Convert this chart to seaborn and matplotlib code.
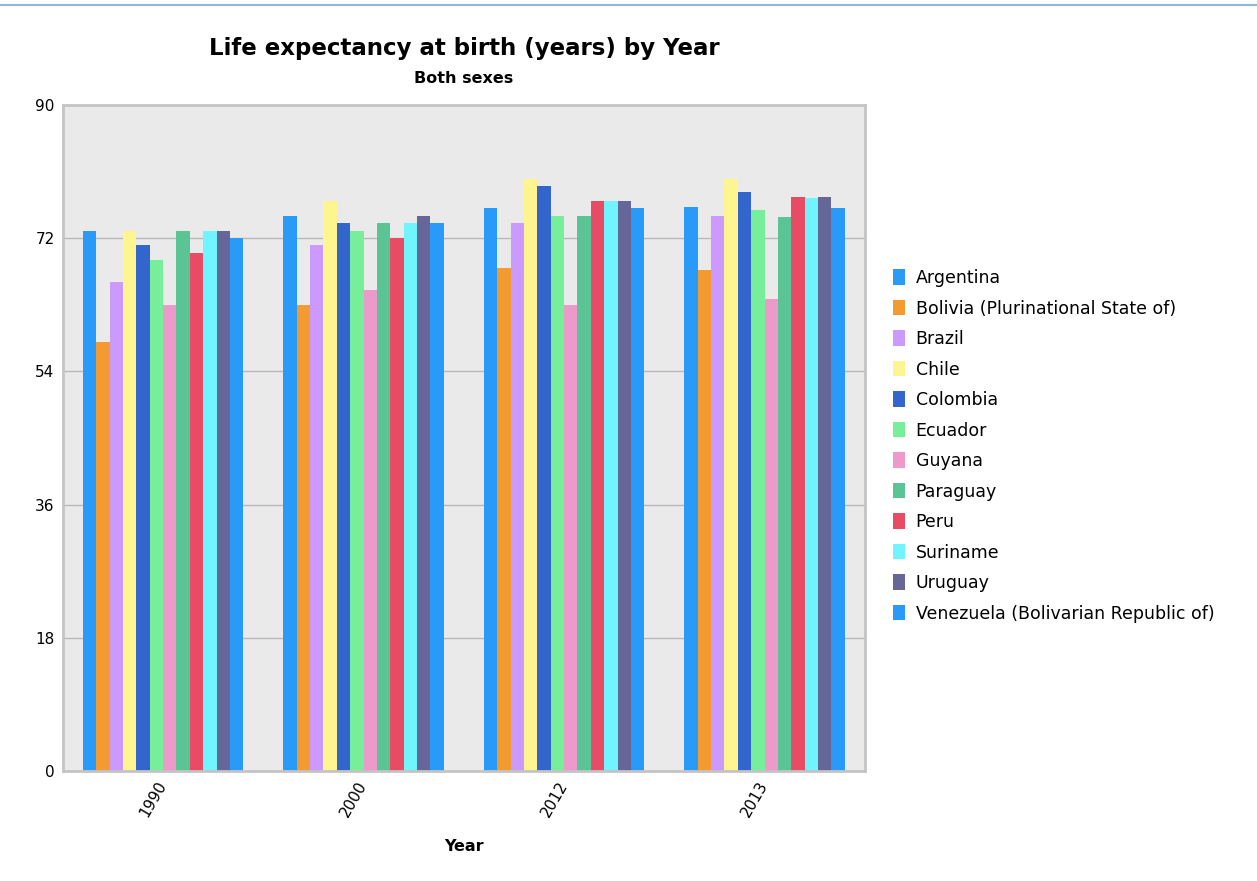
import numpy as np
import pandas as pd
import matplotlib.pyplot as plt
import seaborn as sns
from matplotlib.lines import Line2D

# data
years = ["1990", "2000", "2012", "2013"]
countries = ["Argentina", "Bolivia (Plurinational State of)", "Brazil", "Chile",
             "Colombia", "Ecuador", "Guyana", "Paraguay", "Peru", "Suriname",
             "Uruguay", "Venezuela (Bolivarian Republic of)"]
argentina = [73, 75, 76, 76.2]
bolivia = [58, 63, 68, 67.7]
brazil = [66, 71, 74, 75]
chile = [73, 77, 80, 80]
colombia = [71, 74, 79, 78.2]
ecuador = [69, 73, 75, 75.8]
guyana = [63, 65, 63, 63.7]
paraguay = [73, 74, 75, 74.9]
peru = [70, 72, 77, 77.6]
suriname = [73, 74, 77, 77.4]
uruguay = [73, 75, 77, 77.6]
venezuela = [72, 74, 76, 76]

colors = ["#2A9AF8", "#F39A30", "#CC99FF", "#FFF590", "#3366CC", "#77EE99",
          "#EE99CC", "#5BC495", "#E84C64", "#70F5FF", "#666699", "#2A9AF8"]

series = [argentina, bolivia, brazil, chile, colombia, ecuador, guyana,
          paraguay, peru, suriname, uruguay, venezuela]

rows = []
for c, vals in zip(countries, series):
    for y, v in zip(years, vals):
        rows.append({"Year": y, "Country": c, "Value": v})
df = pd.DataFrame(rows)

sns.set_style("white")
plt.rcParams["font.family"] = ["DejaVu Sans"]
plt.rcParams["text.color"] = "black"
plt.rcParams["xtick.color"] = "black"
plt.rcParams["ytick.color"] = "black"
plt.rcParams["axes.labelcolor"] = "black"

fig = plt.figure(figsize=(12.57, 8.81), dpi=100)
ax = fig.add_axes([0.050, 0.1249, 0.638, 0.7561])

sns.barplot(data=df, x="Year", y="Value", hue="Country", palette=colors,
            order=years, hue_order=countries, width=0.8, ax=ax,
            linewidth=0, saturation=1, errorbar=None)

ax.set_facecolor("#EAEAEA")
ax.set_ylim(0, 90)
ax.set_yticks(np.arange(0, 91, 18))
ax.yaxis.grid(True, color="#B8B8B8", linewidth=1)
ax.set_axisbelow(True)
for s in ax.spines.values():
    s.set_color("#C4C4C4")
    s.set_linewidth(2)

ax.set_ylabel("")
ax.set_xlabel("Year", fontsize=11.5, fontweight="bold", labelpad=14)
ax.tick_params(axis="y", labelsize=11, length=0, pad=6)
ax.tick_params(axis="x", labelsize=11, length=0, pad=8)
for lab in ax.get_xticklabels():
    lab.set_rotation(60)
    lab.set_ha("right")
    lab.set_va("center")
    lab.set_rotation_mode("anchor")

handles, labels = ax.get_legend_handles_labels()
ax.legend(handles, labels, loc="center left", bbox_to_anchor=(0.698, 0.494),
          bbox_transform=fig.transFigure, frameon=False, fontsize=12.5,
          handlelength=0.7, handleheight=1.0, handletextpad=0.6,
          labelspacing=0.72)

fig.text(0.369, 0.945, "Life expectancy at birth (years) by Year",
         ha="center", va="center", fontsize=16.5, fontweight="bold")
fig.text(0.369, 0.911, "Both sexes", ha="center", va="center",
         fontsize=11.5, fontweight="bold")

fig.add_artist(Line2D([0.0, 1.0], [0.994, 0.994], color="#8FB5DA",
                      linewidth=1.5, transform=fig.transFigure))

fig.savefig("out.png", dpi=100)
